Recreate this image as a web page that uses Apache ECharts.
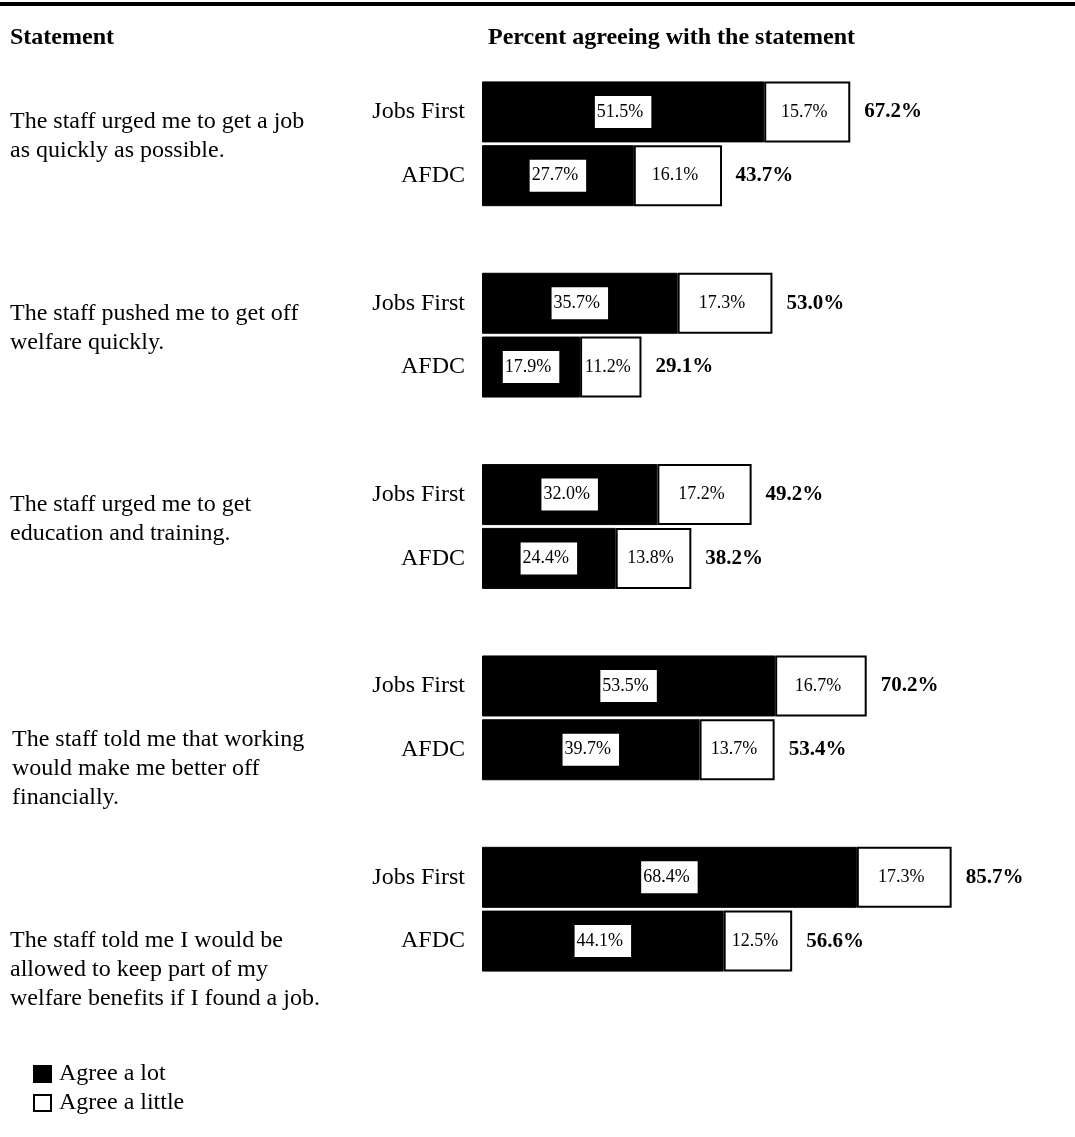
<!DOCTYPE html>
<html>
<head>
<meta charset="utf-8">
<script src="https://cdn.jsdelivr.net/npm/echarts@6/dist/echarts.min.js"></script>
<style>
  html, body { margin: 0; padding: 0; background: #fff; }
  #chart { width: 1075px; height: 1137px; }
</style>
</head>
<body>
<div id="chart"></div>
<script>
// rows of the category axis, blank rows separate the statements
const rows = ["Jobs First", "AFDC", "", "Jobs First", "AFDC", "", "Jobs First", "AFDC", "",
  "Jobs First", "AFDC", "", "Jobs First", "AFDC"];
const agreeLot = [51.5, 27.7, null, 35.7, 17.9, null, 32.0, 24.4, null, 53.5, 39.7, null, 68.4, 44.1];
const agreeLittle = [15.7, 16.1, null, 17.3, 11.2, null, 17.2, 13.8, null, 16.7, 13.7, null, 17.3, 12.5];
const totals = [67.2, 43.7, null, 53.0, 29.1, null, 49.2, 38.2, null, 70.2, 53.4, null, 85.7, 56.6];
const statements = [
  "The staff urged me to get a job\nas quickly as possible.",
  "The staff pushed me to get off\nwelfare quickly.",
  "The staff urged me to get\neducation and training.",
  "The staff told me that working\nwould make me better off\nfinancially.",
  "The staff told me I would be\nallowed to keep part of my\nwelfare benefits if I found a job."
];

const font = "'Liberation Serif', 'Times New Roman', serif";
const stmtTop = [107, 299, 490, 725, 926];
const stmtLeft = [10, 10, 10, 12, 10];

let myChart = echarts.init(document.getElementById("chart"));

const pct = (p) => p.value == null ? "" : p.value.toFixed(1) + "%";

const innerLabel = {
  show: true,
  position: "inside",
  formatter: pct,
  color: "#000",
  fontFamily: font,
  fontSize: 18,
  backgroundColor: "#fff",
  padding: [7, 8, 7, 2],
};

let graphics = [
  // top rule
  { type: "rect", left: 0, top: 2, shape: { width: 1075, height: 4 }, style: { fill: "#000" } },
  {
    type: "text", left: 10, top: 26,
    style: { text: "Statement", font: "bold 24px " + font, fill: "#000" },
  },
  {
    type: "text", left: 488, top: 26,
    style: { text: "Percent agreeing with the statement", font: "bold 24px " + font, fill: "#000" },
  },
];
statements.forEach((s, i) => {
  graphics.push({
    type: "text", left: stmtLeft[i], top: stmtTop[i],
    style: { text: s, font: "24px " + font, fill: "#000", lineHeight: 29 },
  });
});

myChart.setOption({
  animation: false,
  backgroundColor: "#fff",
  textStyle: { fontFamily: font },
  grid: { left: 482, top: 80, width: 548, height: 893, containLabel: false },
  xAxis: { type: "value", min: 0, max: 100, show: false, splitLine: { show: false } },
  yAxis: {
    type: "category",
    inverse: true,
    data: rows,
    axisLine: { show: false },
    axisTick: { show: false },
    axisLabel: { color: "#000", fontSize: 24, fontFamily: font, margin: 17 },
  },
  legend: {
    data: ["Agree a lot", "Agree a little"],
    orient: "vertical",
    left: 33,
    top: 1062,
    padding: 0,
    icon: "rect",
    itemWidth: 17,
    itemHeight: 16,
    itemGap: 5,
    selectedMode: false,
    textStyle: { color: "#000", fontSize: 24, fontFamily: font, padding: [0, 0, 0, 3] },
  },
  graphic: graphics,
  series: [
    {
      name: "Agree a lot",
      type: "bar",
      stack: "agree",
      barWidth: 61,
      barGap: "-100%",
      data: agreeLot,
      itemStyle: { color: "#000", borderColor: "#000", borderWidth: 1 },
      label: innerLabel,
    },
    {
      name: "Agree a little",
      type: "bar",
      stack: "agree",
      barWidth: 61,
      barGap: "-100%",
      data: agreeLittle,
      itemStyle: { color: "#fff", borderColor: "#000", borderWidth: 2 },
      label: innerLabel,
    },
    {
      // total, drawn as a see-through bar so its label sits at the end
      name: "Total",
      type: "bar",
      barWidth: 61,
      barGap: "-100%",
      data: totals,
      itemStyle: { color: "rgba(0,0,0,0)" },
      label: {
        show: true,
        position: "right",
        distance: 14,
        formatter: pct,
        color: "#000",
        fontFamily: font,
        fontSize: 21,
        fontWeight: "bold",
      },
      silent: true,
    },
  ],
});
window.onresize = myChart.resize;
</script>
</body>
</html>
